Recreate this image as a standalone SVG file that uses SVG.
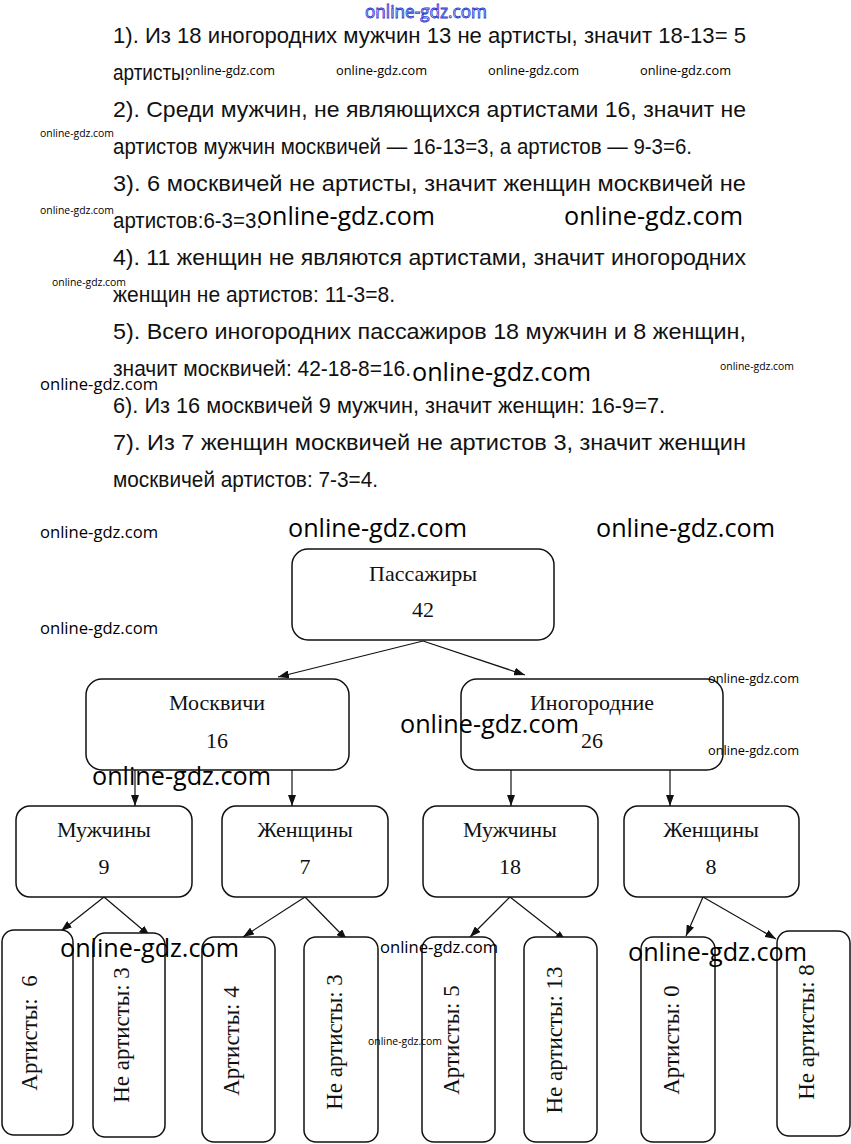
<svg xmlns="http://www.w3.org/2000/svg" width="851" height="1144" viewBox="0 0 851 1144">
<style>
.p{font-family:"Liberation Sans","DejaVu Sans",sans-serif;font-size:22px;fill:#111}
.n{font-family:"Liberation Serif","Times New Roman",serif;font-size:22px;fill:#111;text-anchor:middle}
.v{font-family:"Liberation Serif","Times New Roman",serif;font-size:23px;fill:#111;text-anchor:middle;white-space:pre}
.box{fill:#fff;stroke:#111;stroke-width:1.5}
.c{stroke:#111;stroke-width:1.2;fill:none;marker-end:url(#ah)}
.w{font-family:"Open Sans","Noto Sans",sans-serif;fill:#000}
</style>
<defs>
<marker id="ah" markerWidth="11" markerHeight="8" refX="11" refY="4" orient="auto" markerUnits="userSpaceOnUse"><path d="M0,0 L11,4 L0,8 Z" fill="#111"/></marker>
</defs>
<rect width="851" height="1144" fill="#fff"/>
<g id="solution">
<text class="p" x="113" y="43" textLength="633" lengthAdjust="spacingAndGlyphs">1). Из 18 иногородних мужчин 13 не артисты, значит 18-13= 5</text>
<text class="p" x="113" y="80" textLength="77" lengthAdjust="spacingAndGlyphs">артисты.</text>
<text class="p" x="113" y="117" textLength="633" lengthAdjust="spacingAndGlyphs">2). Среди мужчин, не являющихся артистами 16, значит не</text>
<text class="p" x="113" y="154" textLength="579" lengthAdjust="spacingAndGlyphs">артистов мужчин москвичей — 16-13=3, а артистов — 9-3=6.</text>
<text class="p" x="113" y="191" textLength="633" lengthAdjust="spacingAndGlyphs">3). 6 москвичей не артисты, значит женщин москвичей не</text>
<text class="p" x="113" y="228" textLength="149" lengthAdjust="spacingAndGlyphs">артистов:6-3=3.</text>
<text class="p" x="113" y="265" textLength="633" lengthAdjust="spacingAndGlyphs">4). 11 женщин не являются артистами, значит иногородних</text>
<text class="p" x="113" y="302" textLength="282" lengthAdjust="spacingAndGlyphs">женщин не артистов: 11-3=8.</text>
<text class="p" x="113" y="339" textLength="633" lengthAdjust="spacingAndGlyphs">5). Всего иногородних пассажиров 18 мужчин и 8 женщин,</text>
<text class="p" x="113" y="376" textLength="298" lengthAdjust="spacingAndGlyphs">значит москвичей: 42-18-8=16.</text>
<text class="p" x="113" y="413" textLength="552" lengthAdjust="spacingAndGlyphs">6). Из 16 москвичей 9 мужчин, значит женщин: 16-9=7.</text>
<text class="p" x="113" y="450" textLength="633" lengthAdjust="spacingAndGlyphs">7). Из 7 женщин москвичей не артистов 3, значит женщин</text>
<text class="p" x="113" y="487" textLength="265" lengthAdjust="spacingAndGlyphs">москвичей артистов: 7-3=4.</text>
</g>
<g id="connectors">
<line class="c" x1="423" y1="641" x2="278" y2="677"/>
<line class="c" x1="423" y1="641" x2="525" y2="675"/>
<line class="c" x1="135" y1="770" x2="135" y2="806"/>
<line class="c" x1="292" y1="770" x2="292" y2="806"/>
<line class="c" x1="511" y1="770" x2="511" y2="806"/>
<line class="c" x1="670" y1="770" x2="670" y2="806"/>
<line class="c" x1="104" y1="897" x2="61" y2="931"/>
<line class="c" x1="104" y1="897" x2="150" y2="936"/>
<line class="c" x1="305" y1="897" x2="243" y2="937"/>
<line class="c" x1="305" y1="897" x2="347" y2="940"/>
<line class="c" x1="510" y1="897" x2="470" y2="937"/>
<line class="c" x1="510" y1="897" x2="566" y2="941"/>
<line class="c" x1="703" y1="897" x2="686" y2="936"/>
<line class="c" x1="703" y1="897" x2="776" y2="939"/>
</g>
<g id="n-passengers"><rect class="box" x="292" y="549" width="262" height="91" rx="16"/><text class="n" x="423" y="581">Пассажиры</text><text class="n" x="423" y="617">42</text></g>
<g id="n-moscow"><rect class="box" x="86" y="679" width="263" height="91" rx="16"/><text class="n" x="217" y="710">Москвичи</text><text class="n" x="217" y="748">16</text></g>
<g id="n-nonlocal"><rect class="box" x="461" y="679" width="262" height="91" rx="16"/><text class="n" x="592" y="710">Иногородние</text><text class="n" x="592" y="748">26</text></g>
<g id="n-m-men"><rect class="box" x="16" y="806" width="176" height="91" rx="14"/><text class="n" x="104" y="837">Мужчины</text><text class="n" x="104" y="874">9</text></g>
<g id="n-m-women"><rect class="box" x="222" y="806" width="166" height="91" rx="14"/><text class="n" x="305" y="837">Женщины</text><text class="n" x="305" y="874">7</text></g>
<g id="n-n-men"><rect class="box" x="423" y="806" width="175" height="91" rx="14"/><text class="n" x="510" y="837">Мужчины</text><text class="n" x="510" y="874">18</text></g>
<g id="n-n-women"><rect class="box" x="624" y="806" width="175" height="91" rx="14"/><text class="n" x="711" y="837">Женщины</text><text class="n" x="711" y="874">8</text></g>
<g id="n-a1"><rect class="box" x="2" y="930" width="71" height="205" rx="12"/><text class="v" transform="translate(29,1033) rotate(-90)" x="0" y="8">Артисты:  6</text></g>
<g id="n-b1"><rect class="box" x="93" y="933" width="72" height="204" rx="12"/><text class="v" transform="translate(121,1035) rotate(-90)" x="0" y="8">Не артисты: 3</text></g>
<g id="n-a2"><rect class="box" x="202" y="937" width="73" height="205" rx="12"/><text class="v" transform="translate(231,1041) rotate(-90)" x="0" y="8">Артисты: 4</text></g>
<g id="n-b2"><rect class="box" x="304" y="937" width="74" height="205" rx="12"/><text class="v" transform="translate(334,1042) rotate(-90)" x="0" y="8">Не артисты: 3</text></g>
<g id="n-a3"><rect class="box" x="422" y="937" width="73" height="205" rx="12"/><text class="v" transform="translate(451,1040) rotate(-90)" x="0" y="8">Артисты: 5</text></g>
<g id="n-b3"><rect class="box" x="524" y="937" width="73" height="205" rx="12"/><text class="v" transform="translate(554,1040) rotate(-90)" x="0" y="8">Не артисты: 13</text></g>
<g id="n-a4"><rect class="box" x="641" y="937" width="74" height="205" rx="12"/><text class="v" transform="translate(671,1040) rotate(-90)" x="0" y="8">Артисты: 0</text></g>
<g id="n-b4"><rect class="box" x="777" y="931" width="73" height="205" rx="12"/><text class="v" transform="translate(806,1032) rotate(-90)" x="0" y="8">Не артисты: 8</text></g>
<g id="watermarks">
<text x="365" y="18" font-family="Open Sans,sans-serif" font-size="18" fill="#fff" stroke="#2a3ad0" stroke-width="0.9" textLength="122" lengthAdjust="spacingAndGlyphs">online-gdz.com</text>
<text class="w" x="185" y="75" font-size="13" textLength="90" lengthAdjust="spacingAndGlyphs">online-gdz.com</text>
<text class="w" x="336" y="75" font-size="13" textLength="91" lengthAdjust="spacingAndGlyphs">online-gdz.com</text>
<text class="w" x="488" y="75" font-size="13" textLength="91" lengthAdjust="spacingAndGlyphs">online-gdz.com</text>
<text class="w" x="640" y="75" font-size="13" textLength="91" lengthAdjust="spacingAndGlyphs">online-gdz.com</text>
<text class="w" x="40" y="137" font-size="11" textLength="74" lengthAdjust="spacingAndGlyphs">online-gdz.com</text>
<text class="w" x="40" y="214" font-size="11" textLength="74" lengthAdjust="spacingAndGlyphs">online-gdz.com</text>
<text class="w" x="52" y="286" font-size="11" textLength="74" lengthAdjust="spacingAndGlyphs">online-gdz.com</text>
<text class="w" x="257" y="225" font-size="26" textLength="178" lengthAdjust="spacingAndGlyphs">online-gdz.com</text>
<text class="w" x="564" y="225" font-size="26" textLength="179" lengthAdjust="spacingAndGlyphs">online-gdz.com</text>
<text class="w" x="720" y="370" font-size="11" textLength="74" lengthAdjust="spacingAndGlyphs">online-gdz.com</text>
<text class="w" x="40" y="390" font-size="17" textLength="118" lengthAdjust="spacingAndGlyphs">online-gdz.com</text>
<text class="w" x="412" y="381" font-size="26" textLength="179" lengthAdjust="spacingAndGlyphs">online-gdz.com</text>
<text class="w" x="40" y="538" font-size="17" textLength="118" lengthAdjust="spacingAndGlyphs">online-gdz.com</text>
<text class="w" x="288" y="537" font-size="26" textLength="179" lengthAdjust="spacingAndGlyphs">online-gdz.com</text>
<text class="w" x="596" y="537" font-size="26" textLength="179" lengthAdjust="spacingAndGlyphs">online-gdz.com</text>
<text class="w" x="40" y="634" font-size="17" textLength="118" lengthAdjust="spacingAndGlyphs">online-gdz.com</text>
<text class="w" x="708" y="683" font-size="13" textLength="91" lengthAdjust="spacingAndGlyphs">online-gdz.com</text>
<text class="w" x="400" y="733" font-size="26" textLength="179" lengthAdjust="spacingAndGlyphs">online-gdz.com</text>
<text class="w" x="708" y="755" font-size="13" textLength="91" lengthAdjust="spacingAndGlyphs">online-gdz.com</text>
<text class="w" x="92" y="785" font-size="26" textLength="179" lengthAdjust="spacingAndGlyphs">online-gdz.com</text>
<text class="w" x="60" y="957" font-size="26" textLength="179" lengthAdjust="spacingAndGlyphs">online-gdz.com</text>
<text class="w" x="380" y="953" font-size="16" textLength="118" lengthAdjust="spacingAndGlyphs">online-gdz.com</text>
<text class="w" x="368" y="1045" font-size="11" textLength="74" lengthAdjust="spacingAndGlyphs">online-gdz.com</text>
<text class="w" x="628" y="961" font-size="26" textLength="179" lengthAdjust="spacingAndGlyphs">online-gdz.com</text>
</g>
</svg>
